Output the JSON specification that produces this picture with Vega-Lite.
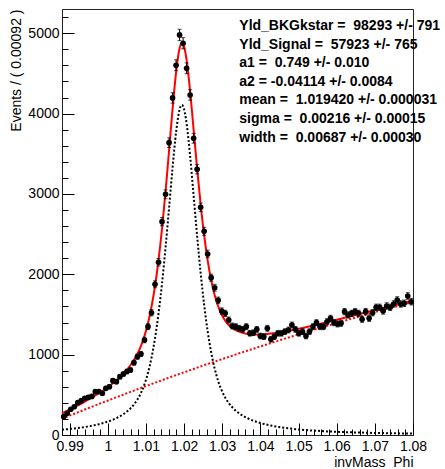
{
"$schema":"https://vega.github.io/schema/vega-lite/v6.json",
"width":351,"height":426,
"autosize":{"type":"none"},
"padding":{"left":62,"top":9,"right":32,"bottom":34},
"background":"white",
"config":{"font":"Liberation Sans","view":{"stroke":"#222","strokeWidth":1},
"axis":{"grid":false,"domain":false,"labelFont":"Liberation Sans","labelFontSize":14,"labelColor":"#000","tickColor":"#000","tickWidth":1,"titleFont":"Liberation Sans","titleFontSize":14,"titleFontWeight":"normal","titleColor":"#000"}},
"datasets":{
"bins":[
{"x":0.98846,"n":228,"e":15.1},{"x":0.98938,"n":270,"e":16.4},{"x":0.9903,"n":320,"e":17.9},{"x":0.99122,"n":352,"e":18.8},{"x":0.99214,"n":402,"e":20.0},
{"x":0.99306,"n":427,"e":20.7},{"x":0.99398,"n":457,"e":21.4},{"x":0.9949,"n":470,"e":21.7},{"x":0.99582,"n":480,"e":21.9},{"x":0.99674,"n":539,"e":23.2},
{"x":0.99766,"n":540,"e":23.2},{"x":0.99858,"n":519,"e":22.8},{"x":0.9995,"n":581,"e":24.1},{"x":1.00042,"n":600,"e":24.5},{"x":1.00134,"n":676,"e":26.0},
{"x":1.00226,"n":664,"e":25.8},{"x":1.00318,"n":726,"e":26.9},{"x":1.0041,"n":759,"e":27.5},{"x":1.00502,"n":790,"e":28.1},{"x":1.00594,"n":809,"e":28.4},
{"x":1.00686,"n":900,"e":30.0},{"x":1.00778,"n":975,"e":31.2},{"x":1.0087,"n":1008,"e":31.7},{"x":1.00962,"n":1182,"e":34.4},{"x":1.01054,"n":1348,"e":36.7},
{"x":1.01146,"n":1522,"e":39.0},{"x":1.01238,"n":1876,"e":43.3},{"x":1.0133,"n":2150,"e":46.4},{"x":1.01422,"n":2655,"e":51.5},{"x":1.01514,"n":2996,"e":54.7},
{"x":1.01606,"n":3638,"e":60.3},{"x":1.01698,"n":4195,"e":64.8},{"x":1.0179,"n":4602,"e":67.8},{"x":1.01882,"n":4979,"e":70.6},{"x":1.01974,"n":4876,"e":69.8},
{"x":1.02066,"n":4564,"e":67.6},{"x":1.02158,"n":4232,"e":65.1},{"x":1.0225,"n":3693,"e":60.8},{"x":1.02342,"n":3307,"e":57.5},{"x":1.02434,"n":2834,"e":53.2},
{"x":1.02526,"n":2535,"e":50.3},{"x":1.02618,"n":2253,"e":47.5},{"x":1.0271,"n":1958,"e":44.2},{"x":1.02802,"n":1833,"e":42.8},{"x":1.02894,"n":1676,"e":40.9},
{"x":1.02986,"n":1543,"e":39.3},{"x":1.03078,"n":1514,"e":38.9},{"x":1.0317,"n":1431,"e":37.8},{"x":1.03262,"n":1357,"e":36.8},{"x":1.03354,"n":1348,"e":36.7},
{"x":1.03446,"n":1328,"e":36.4},{"x":1.03538,"n":1315,"e":36.3},{"x":1.0363,"n":1348,"e":36.7},{"x":1.03722,"n":1266,"e":35.6},{"x":1.03814,"n":1273,"e":35.7},
{"x":1.03906,"n":1315,"e":36.3},{"x":1.03998,"n":1232,"e":35.1},{"x":1.0409,"n":1224,"e":35.0},{"x":1.04182,"n":1328,"e":36.4},{"x":1.04274,"n":1191,"e":34.5},
{"x":1.04366,"n":1224,"e":35.0},{"x":1.04458,"n":1266,"e":35.6},{"x":1.0455,"n":1266,"e":35.6},{"x":1.04642,"n":1286,"e":35.9},{"x":1.04734,"n":1307,"e":36.2},
{"x":1.04826,"n":1369,"e":37.0},{"x":1.04918,"n":1315,"e":36.3},{"x":1.0501,"n":1266,"e":35.6},{"x":1.05102,"n":1286,"e":35.9},{"x":1.05194,"n":1232,"e":35.1},
{"x":1.05286,"n":1286,"e":35.9},{"x":1.05378,"n":1348,"e":36.7},{"x":1.0547,"n":1398,"e":37.4},{"x":1.05562,"n":1348,"e":36.7},{"x":1.05654,"n":1348,"e":36.7},
{"x":1.05746,"n":1410,"e":37.5},{"x":1.05838,"n":1452,"e":38.1},{"x":1.0593,"n":1398,"e":37.4},{"x":1.06022,"n":1382,"e":37.2},{"x":1.06114,"n":1390,"e":37.3},
{"x":1.06206,"n":1535,"e":39.2},{"x":1.06298,"n":1494,"e":38.7},{"x":1.0639,"n":1514,"e":38.9},{"x":1.06482,"n":1535,"e":39.2},{"x":1.06574,"n":1514,"e":38.9},
{"x":1.06666,"n":1440,"e":37.9},{"x":1.06758,"n":1535,"e":39.2},{"x":1.0685,"n":1452,"e":38.1},{"x":1.06942,"n":1522,"e":39.0},{"x":1.07034,"n":1589,"e":39.9},
{"x":1.07126,"n":1589,"e":39.9},{"x":1.07218,"n":1543,"e":39.3},{"x":1.0731,"n":1606,"e":40.1},{"x":1.07402,"n":1589,"e":39.9},{"x":1.07494,"n":1631,"e":40.4},
{"x":1.07586,"n":1680,"e":41.0},{"x":1.07678,"n":1631,"e":40.4},{"x":1.0777,"n":1639,"e":40.5},{"x":1.07862,"n":1730,"e":41.6},{"x":1.07954,"n":1659,"e":40.7}
],
"curve":[
{"x":0.988,"tot":270,"bkg":204,"sig":66},{"x":0.98846,"tot":280,"bkg":212,"sig":68},{"x":0.98938,"tot":302,"bkg":230,"sig":72},{"x":0.9903,"tot":324,"bkg":247,"sig":77},
{"x":0.99122,"tot":346,"bkg":264,"sig":81},{"x":0.99214,"tot":369,"bkg":282,"sig":87},{"x":0.99306,"tot":392,"bkg":299,"sig":93},{"x":0.99398,"tot":416,"bkg":317,"sig":99},
{"x":0.9949,"tot":441,"bkg":334,"sig":107},{"x":0.99582,"tot":466,"bkg":351,"sig":115},{"x":0.99674,"tot":493,"bkg":369,"sig":124},{"x":0.99766,"tot":520,"bkg":386,"sig":134},
{"x":0.99858,"tot":548,"bkg":403,"sig":146},{"x":0.9995,"tot":578,"bkg":419,"sig":159},{"x":1.00042,"tot":610,"bkg":436,"sig":173},{"x":1.00134,"tot":643,"bkg":453,"sig":190},
{"x":1.00226,"tot":679,"bkg":470,"sig":210},{"x":1.00318,"tot":719,"bkg":486,"sig":232},{"x":1.0041,"tot":763,"bkg":503,"sig":260},{"x":1.00502,"tot":812,"bkg":520,"sig":292},
{"x":1.00594,"tot":868,"bkg":537,"sig":331},{"x":1.00686,"tot":933,"bkg":553,"sig":380},{"x":1.00778,"tot":1011,"bkg":569,"sig":442},{"x":1.0087,"tot":1109,"bkg":585,"sig":524},
{"x":1.00962,"tot":1234,"bkg":602,"sig":632},{"x":1.01054,"tot":1392,"bkg":618,"sig":774},{"x":1.01146,"tot":1596,"bkg":634,"sig":962},{"x":1.01238,"tot":1855,"bkg":650,"sig":1205},
{"x":1.0133,"tot":2178,"bkg":666,"sig":1512},{"x":1.01422,"tot":2570,"bkg":682,"sig":1888},{"x":1.01514,"tot":3029,"bkg":698,"sig":2331},{"x":1.01606,"tot":3539,"bkg":714,"sig":2825},
{"x":1.01698,"tot":4057,"bkg":730,"sig":3327},{"x":1.0179,"tot":4514,"bkg":745,"sig":3769},{"x":1.01882,"tot":4813,"bkg":761,"sig":4052},{"x":1.01942,"tot":4879,"bkg":771,"sig":4108},
{"x":1.01974,"tot":4868,"bkg":776,"sig":4092},{"x":1.02066,"tot":4668,"bkg":791,"sig":3877},{"x":1.02158,"tot":4280,"bkg":807,"sig":3473},{"x":1.0225,"tot":3801,"bkg":822,"sig":2979},
{"x":1.02342,"tot":3315,"bkg":838,"sig":2477},{"x":1.02434,"tot":2870,"bkg":853,"sig":2017},{"x":1.02526,"tot":2488,"bkg":869,"sig":1619},{"x":1.02618,"tot":2174,"bkg":883,"sig":1291},
{"x":1.0271,"tot":1928,"bkg":898,"sig":1030},{"x":1.02802,"tot":1739,"bkg":913,"sig":826},{"x":1.02894,"tot":1599,"bkg":928,"sig":671},{"x":1.02986,"tot":1497,"bkg":943,"sig":554},
{"x":1.03078,"tot":1423,"bkg":958,"sig":465},{"x":1.0317,"tot":1369,"bkg":972,"sig":397},{"x":1.03262,"tot":1332,"bkg":987,"sig":345},{"x":1.03354,"tot":1305,"bkg":1002,"sig":303},
{"x":1.03446,"tot":1286,"bkg":1017,"sig":269},{"x":1.03538,"tot":1271,"bkg":1031,"sig":240},{"x":1.0363,"tot":1261,"bkg":1045,"sig":216},{"x":1.03722,"tot":1255,"bkg":1059,"sig":196},
{"x":1.03814,"tot":1252,"bkg":1073,"sig":178},{"x":1.03906,"tot":1251,"bkg":1088,"sig":163},{"x":1.03998,"tot":1251,"bkg":1102,"sig":149},{"x":1.0409,"tot":1254,"bkg":1116,"sig":138},
{"x":1.04182,"tot":1257,"bkg":1130,"sig":127},{"x":1.04274,"tot":1262,"bkg":1144,"sig":118},{"x":1.04366,"tot":1268,"bkg":1159,"sig":109},{"x":1.04458,"tot":1274,"bkg":1172,"sig":102},
{"x":1.0455,"tot":1280,"bkg":1186,"sig":95},{"x":1.04642,"tot":1288,"bkg":1199,"sig":89},{"x":1.04734,"tot":1296,"bkg":1213,"sig":83},{"x":1.04826,"tot":1304,"bkg":1226,"sig":78},
{"x":1.04918,"tot":1313,"bkg":1240,"sig":73},{"x":1.0501,"tot":1322,"bkg":1253,"sig":69},{"x":1.05102,"tot":1332,"bkg":1267,"sig":65},{"x":1.05194,"tot":1342,"bkg":1280,"sig":62},
{"x":1.05286,"tot":1352,"bkg":1294,"sig":58},{"x":1.05378,"tot":1362,"bkg":1307,"sig":55},{"x":1.0547,"tot":1372,"bkg":1320,"sig":53},{"x":1.05562,"tot":1383,"bkg":1333,"sig":50},
{"x":1.05654,"tot":1393,"bkg":1345,"sig":48},{"x":1.05746,"tot":1404,"bkg":1358,"sig":45},{"x":1.05838,"tot":1415,"bkg":1371,"sig":43},{"x":1.0593,"tot":1425,"bkg":1384,"sig":41},
{"x":1.06022,"tot":1437,"bkg":1397,"sig":40},{"x":1.06114,"tot":1448,"bkg":1410,"sig":38},{"x":1.06206,"tot":1459,"bkg":1423,"sig":36},{"x":1.06298,"tot":1470,"bkg":1435,"sig":35},
{"x":1.0639,"tot":1481,"bkg":1447,"sig":33},{"x":1.06482,"tot":1492,"bkg":1460,"sig":32},{"x":1.06574,"tot":1503,"bkg":1472,"sig":31},{"x":1.06666,"tot":1514,"bkg":1484,"sig":30},
{"x":1.06758,"tot":1525,"bkg":1496,"sig":29},{"x":1.0685,"tot":1536,"bkg":1509,"sig":27},{"x":1.06942,"tot":1547,"bkg":1521,"sig":26},{"x":1.07034,"tot":1559,"bkg":1533,"sig":26},
{"x":1.07126,"tot":1570,"bkg":1545,"sig":25},{"x":1.07218,"tot":1581,"bkg":1557,"sig":24},{"x":1.0731,"tot":1592,"bkg":1569,"sig":23},{"x":1.07402,"tot":1603,"bkg":1580,"sig":22},
{"x":1.07494,"tot":1613,"bkg":1592,"sig":22},{"x":1.07586,"tot":1624,"bkg":1604,"sig":21},{"x":1.07678,"tot":1635,"bkg":1615,"sig":20},{"x":1.0777,"tot":1646,"bkg":1627,"sig":20},
{"x":1.07862,"tot":1657,"bkg":1639,"sig":19},{"x":1.07954,"tot":1668,"bkg":1650,"sig":18},{"x":1.08,"tot":1674,"bkg":1656,"sig":18}
]
},
"resolve":{"axis":{"x":"independent","y":"independent"}},
"layer":[
{"data":{"name":"curve"},
 "mark":{"type":"line","color":"#ff0000","strokeWidth":2,"strokeDash":[2,2],"interpolate":"monotone"},
 "encoding":{
  "x":{"field":"x","type":"quantitative","scale":{"domain":[0.988,1.08],"nice":false,"zero":false},
   "axis":{"orient":"bottom","values":[0.99,1,1.01,1.02,1.03,1.04,1.05,1.06,1.07,1.08],"format":"~g","ticks":false,"labelPadding":4,"labelFlush":false,"labelOverlap":false,"title":"invMass\u00a0 Phi","titleAnchor":"end","titlePadding":2}},
  "y":{"field":"bkg","type":"quantitative","scale":{"domain":[0,5302],"nice":false,"zero":false},
   "axis":{"orient":"left","values":[0,1000,2000,3000,4000,5000],"format":"d","ticks":false,"labelPadding":3,"labelOverlap":false,"title":"Events / ( 0.00092 )","titleAnchor":"end","titlePadding":4}}}},
{"data":{"name":"curve"},
 "mark":{"type":"line","color":"#000000","strokeWidth":2,"strokeDash":[2,2],"interpolate":"monotone"},
 "encoding":{
  "x":{"field":"x","type":"quantitative","scale":{"domain":[0.988,1.08],"nice":false,"zero":false},
   "axis":{"orient":"bottom","values":[0.99,1,1.01,1.02,1.03,1.04,1.05,1.06,1.07,1.08],"labels":false,"tickSize":-12,"title":null}},
  "y":{"field":"sig","type":"quantitative","scale":{"domain":[0,5302],"nice":false,"zero":false},
   "axis":{"orient":"left","values":[0,1000,2000,3000,4000,5000],"labels":false,"tickSize":-12,"title":null}}}},
{"data":{"name":"curve"},
 "mark":{"type":"line","color":"#ff0000","strokeWidth":2,"interpolate":"monotone"},
 "encoding":{
  "x":{"field":"x","type":"quantitative","scale":{"domain":[0.988,1.08],"nice":false,"zero":false},
   "axis":{"orient":"bottom","values":[0.988,0.992,0.994,0.996,0.998,1.002,1.004,1.006,1.008,1.012,1.014,1.016,1.018,1.022,1.024,1.026,1.028,1.032,1.034,1.036,1.038,1.042,1.044,1.046,1.048,1.052,1.054,1.056,1.058,1.062,1.064,1.066,1.068,1.072,1.074,1.076,1.078],"labels":false,"tickSize":-6,"title":null}},
  "y":{"field":"tot","type":"quantitative","scale":{"domain":[0,5302],"nice":false,"zero":false},
   "axis":{"orient":"left","values":[200,400,600,800,1200,1400,1600,1800,2200,2400,2600,2800,3200,3400,3600,3800,4200,4400,4600,4800,5200],"labels":false,"tickSize":-6,"title":null}}}},
{"data":{"name":"bins"},
 "mark":{"type":"errorbar","color":"#000000","thickness":1,"ticks":{"size":4,"color":"#000000"}},
 "encoding":{
  "x":{"field":"x","type":"quantitative","scale":{"domain":[0.988,1.08],"nice":false,"zero":false},"axis":null},
  "y":{"field":"n","type":"quantitative","scale":{"domain":[0,5302],"nice":false,"zero":false},"axis":null},
  "yError":{"field":"e"}}},
{"data":{"name":"bins"},
 "mark":{"type":"point","filled":true,"shape":"circle","size":32,"color":"#000000","opacity":1},
 "encoding":{
  "x":{"field":"x","type":"quantitative","scale":{"domain":[0.988,1.08],"nice":false,"zero":false},"axis":null},
  "y":{"field":"n","type":"quantitative","scale":{"domain":[0,5302],"nice":false,"zero":false},"axis":null}}},
{"data":{"values":[{}]},
 "mark":{"type":"text","align":"left","baseline":"alphabetic","font":"Liberation Sans","fontSize":14,"fontWeight":"bold","lineHeight":18.6,"color":"#000000"},
 "encoding":{
  "x":{"datum":1.03447,"type":"quantitative","scale":{"domain":[0.988,1.08],"nice":false,"zero":false},"axis":null},
  "y":{"datum":5041,"type":"quantitative","scale":{"domain":[0,5302],"nice":false,"zero":false},"axis":null},
  "text":{"value":["Yld_BKGkstar =\u00a0 98293 +/- 791","Yld_Signal =\u00a0 57923 +/- 765","a1 =\u00a0 0.749 +/- 0.010","a2 = -0.04114 +/- 0.0084","mean =\u00a0 1.019420 +/- 0.000031","sigma =\u00a0 0.00216 +/- 0.00015","width =\u00a0 0.00687 +/- 0.00030"]}}}
]
}
